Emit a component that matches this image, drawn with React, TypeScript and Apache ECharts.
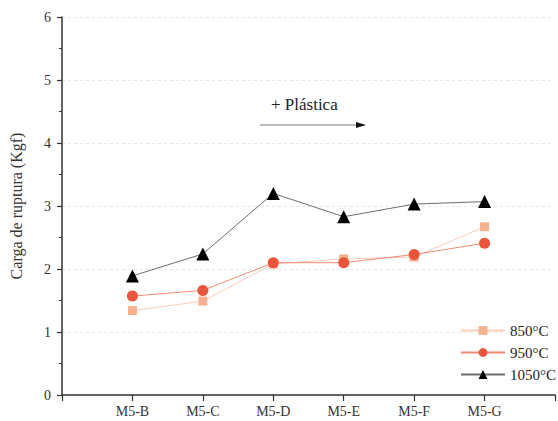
import React, { useEffect, useRef } from "react";
import * as echarts from "echarts";

const categories = ["M5-B", "M5-C", "M5-D", "M5-E", "M5-F", "M5-G"];
const seriesNames = ["850°C", "950°C", "1050°C"];
const v850 = [1.34, 1.49, 2.08, 2.16, 2.19, 2.67];
const v950 = [1.57, 1.66, 2.1, 2.1, 2.23, 2.41];
const v1050 = [1.89, 2.24, 3.2, 2.83, 3.03, 3.07];
const yTicks = [0, 1, 2, 3, 4, 5, 6];

const FONT = "'Liberation Serif', 'Times New Roman', serif";

export default function App() {
  const ref = useRef<HTMLDivElement>(null);
  useEffect(() => {
    if (!ref.current) return;
    const chart = echarts.init(ref.current, undefined, { renderer: "svg" });
    const toPts = (arr: number[]) => arr.map((v, i) => [i + 1, v]);
    chart.setOption({
      animation: false,
      backgroundColor: "#fff",
      grid: { left: 59, top: 17, width: 507, height: 378 },
      xAxis: {
        type: "value",
        min: 0,
        max: 7,
        interval: 1,
        axisLine: { show: true, lineStyle: { color: "#333", width: 1.5 } },
        axisTick: { show: true, length: 6, lineStyle: { color: "#333", width: 1.2 } },
        splitLine: { show: false },
        axisLabel: {
          formatter: (v: number) => categories[v - 1] ?? "",
          fontFamily: FONT,
          fontSize: 14,
          color: "#333",
          margin: 9,
        },
      },
      yAxis: {
        type: "value",
        min: yTicks[0],
        max: yTicks[yTicks.length - 1],
        interval: 1,
        name: "Carga de ruptura (Kgf)",
        nameLocation: "middle",
        nameGap: 38,
        nameTextStyle: { fontFamily: FONT, fontSize: 16, color: "#333" },
        axisLine: { show: true, lineStyle: { color: "#333", width: 1.5 } },
        axisTick: { show: true, length: 5, lineStyle: { color: "#333", width: 1.2 } },
        minorTick: { show: true, splitNumber: 2, length: 3, lineStyle: { color: "#333", width: 1 } },
        splitLine: { show: true, lineStyle: { color: "#e8e8e8", type: [3, 3], width: 1 } },
        axisLabel: { fontFamily: FONT, fontSize: 14, color: "#333", margin: 11 },
      },
      legend: {
        orient: "vertical",
        left: 455,
        top: 318,
        itemWidth: 44,
        itemHeight: 11,
        itemGap: 7,
        textStyle: { fontFamily: FONT, fontSize: 15, color: "#222" },
        data: seriesNames,
      },
      series: [
        {
          name: seriesNames[0],
          type: "line",
          data: toPts(v850),
          symbol: "rect",
          symbolSize: 9,
          itemStyle: { color: "#f7b18f" },
          lineStyle: { color: "#f9cdb9", width: 1 },
          z: 2,
        },
        {
          name: seriesNames[1],
          type: "line",
          data: toPts(v950),
          symbol: "circle",
          symbolSize: 11,
          itemStyle: { color: "#e8553a" },
          lineStyle: { color: "#f08a73", width: 1 },
          z: 3,
        },
        {
          name: seriesNames[2],
          type: "line",
          data: toPts(v1050),
          symbol: "triangle",
          symbolSize: 13,
          itemStyle: { color: "#000" },
          lineStyle: { color: "#6e6e6e", width: 1 },
          z: 4,
        },
      ],
      graphic: [
        {
          type: "text",
          left: 271,
          top: 96,
          style: { text: "+ Plástica", fontFamily: FONT, fontSize: 17, fill: "#222" },
        },
        {
          type: "line",
          shape: { x1: 260, y1: 125, x2: 358, y2: 125 },
          style: { stroke: "#777", lineWidth: 1 },
        },
        {
          type: "polygon",
          shape: { points: [[356, 122], [366, 125], [356, 128]] },
          style: { fill: "#111" },
        },
      ],
    });
    return () => chart.dispose();
  }, []);
  return (
    <div
      ref={ref}
      style={{ position: "fixed", left: 0, top: 0, width: 558, height: 421, background: "#fff" }}
    />
  );
}
